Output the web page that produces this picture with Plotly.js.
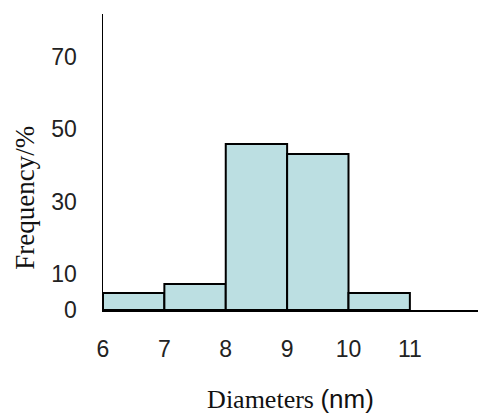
<!DOCTYPE html>
<html>
<head>
<meta charset="utf-8">
<script src="https://cdn.plot.ly/plotly-3.0.1.min.js"></script>
<style>html,body{margin:0;padding:0;background:#fff;}#chart{width:478px;height:414px;}</style>
</head>
<body>
<div id="chart"></div>
<script>
const binStart = [6, 7, 8, 9, 10];
const frequency = [4.7, 7.2, 45.9, 43.1, 4.7];
const xTicks = [6, 7, 8, 9, 10, 11];
const yTicks = [0, 10, 30, 50, 70];

const trace = {
  type: 'bar',
  x: binStart,
  y: frequency,
  width: 1,
  offset: 0,
  marker: {color: '#bcdfe2', line: {color: '#000', width: 2}},
  hoverinfo: 'skip'
};

const layout = {
  width: 478, height: 414,
  margin: {l: 103, r: 0, t: 14, b: 104},
  paper_bgcolor: '#fff', plot_bgcolor: '#fff',
  showlegend: false,
  xaxis: {
    range: [6, 12.11],
    tickvals: xTicks,
    ticks: '',
    showgrid: false, zeroline: false,
    showline: true, linecolor: '#000', linewidth: 2,
    ticklabelstandoff: 17,
    tickfont: {family: 'Liberation Sans, Arial, sans-serif', size: 23, color: '#222'},
    title: {
      text: 'Diameters <span style="font-family:Liberation Sans, Arial, sans-serif">(nm)</span>',
      font: {family: 'Liberation Serif, Times New Roman, serif', size: 26, color: '#111'},
      standoff: 30
    }
  },
  yaxis: {
    range: [0, 81.8],
    tickvals: yTicks,
    ticks: '',
    showgrid: false, zeroline: false,
    showline: true, linecolor: '#000', linewidth: 1.5,
    ticklabelstandoff: 20,
    tickfont: {family: 'Liberation Sans, Arial, sans-serif', size: 23, color: '#222'}
  },
  annotations: [{
    text: 'Frequency/%',
    xref: 'paper', yref: 'paper',
    x: -0.21, y: 0.38,
    xanchor: 'center', yanchor: 'middle',
    textangle: -90, showarrow: false,
    font: {family: 'Liberation Serif, Times New Roman, serif', size: 27, color: '#111'}
  }]
};

Plotly.newPlot('chart', [trace], layout, {displayModeBar: false, staticPlot: true});
</script>
</body>
</html>
